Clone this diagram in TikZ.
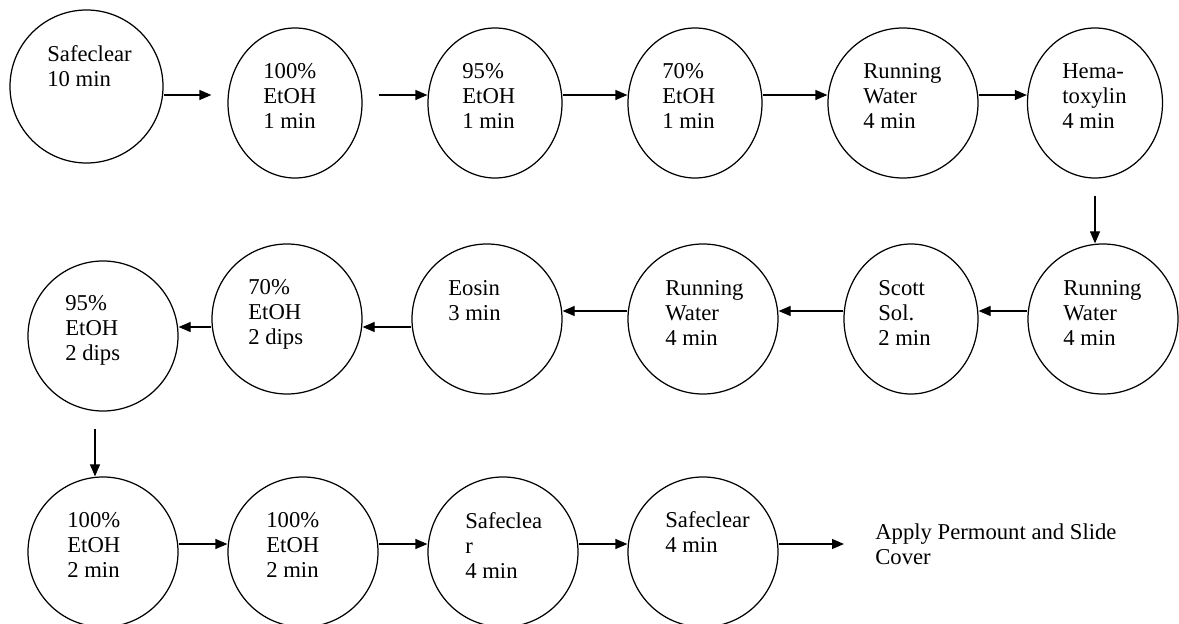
\documentclass[tikz,border=0pt]{standalone}
\usepackage{fontspec}
\setmainfont{Liberation Serif}
\usetikzlibrary{shapes.geometric,arrows.meta,positioning,calc}

\begin{document}
\begin{tikzpicture}[
    bath/.style={draw, ellipse, line width=0.7pt, inner sep=0pt,
      minimum width=3cm, minimum height=3cm},
    lbl/.style={anchor=north west, inner sep=0pt, align=left,
      font=\fontsize{12.9}{14.2}\selectfont},
    flow/.style={->, line width=0.7pt},
    >={Triangle[length=0.24cm,width=0.2cm]}
  ]
  \useasboundingbox (0,0) rectangle (23.58,-12.48);

  % arrow heights of the rows
  \coordinate (row1) at (0,-1.9);
  \coordinate (row2a) at (0,-6.22);
  \coordinate (row2b) at (0,-6.54);
  \coordinate (row3) at (0,-10.88);

  % first row
  \node[bath, minimum width=3.06cm, minimum height=3.06cm] (s1) at (1.73,-1.73) {};
  \node[bath, minimum width=2.68cm] (s2) at (5.9,-2.06) {};
  \node[bath, minimum width=2.68cm] (s3) at (9.9,-2.06) {};
  \node[bath, minimum width=2.68cm] (s4) at (13.9,-2.06) {};
  \node[bath] (s5) at (18.06,-2.06) {};
  \node[bath, minimum width=2.7cm] (s6) at (21.9,-2.06) {};

  \node[lbl] (t1) at (0.94,-0.9) {Safeclear\\10 min};
  \node[lbl] (t2) at (5.26,-1.26) {100\%\\EtOH\\1 min};
  \node[lbl] (t3) at (9.24,-1.26) {95\%\\EtOH\\1 min};
  \node[lbl] (t4) at (13.24,-1.26) {70\%\\EtOH\\1 min};
  \node[lbl] (t5) at (17.26,-1.26) {Running\\Water\\4 min};
  \node[lbl] (t6) at (21.24,-1.26) {Hema-\\toxylin\\4 min};

  % second row, right to left
  \node[bath] (s7) at (22.06,-6.38) {};
  \node[bath, minimum width=2.68cm] (s8) at (18.22,-6.38) {};
  \node[bath] (s9) at (14.06,-6.38) {};
  \node[bath] (s10) at (9.74,-6.38) {};
  \node[bath] (s11) at (5.74,-6.38) {};
  \node[bath] (s12) at (2.06,-6.72) {};

  \node[lbl] (t7) at (21.26,-5.6) {Running\\Water\\4 min};
  \node[lbl] (t8) at (17.56,-5.6) {Scott\\Sol.\\2 min};
  \node[lbl] (t9) at (13.3,-5.6) {Running\\Water\\4 min};
  \node[lbl] (t10) at (8.96,-5.6) {Eosin\\3 min};
  \node[lbl] (t11) at (4.96,-5.58) {70\%\\EtOH\\2 dips};
  \node[lbl] (t12) at (1.3,-5.9) {95\%\\EtOH\\2 dips};

  % third row
  \node[bath] (s13) at (2.06,-11.04) {};
  \node[bath] (s14) at (6.06,-11.04) {};
  \node[bath] (s15) at (10.06,-11.04) {};
  \node[bath] (s16) at (14.06,-11.04) {};

  \node[lbl] (t13) at (1.34,-10.24) {100\%\\EtOH\\2 min};
  \node[lbl] (t14) at (5.32,-10.24) {100\%\\EtOH\\2 min};
  \node[lbl] (t15) at (9.3,-10.24) {Safeclea\\r\\4 min};
  \node[lbl] (t16) at (13.3,-10.22) {Safeclear\\4 min};
  \node[lbl] (fin) at (17.5,-10.46) {Apply Permount and Slide\\Cover};

  % connectors
  \draw[flow, shorten >=0.32cm] (s1.east |- row1) -- (s2.west |- row1);
  \draw[flow, shorten <=0.32cm] (s2.east |- row1) -- (s3.west |- row1);
  \draw[flow] (s3.east |- row1) -- (s4.west |- row1);
  \draw[flow] (s4.east |- row1) -- (s5.west |- row1);
  \draw[flow] (s5.east |- row1) -- (s6.west |- row1);
  \draw[flow, shorten <=0.34cm] (s6.south) -- (s6.south |- s7.north);

  \draw[flow] (s7.west |- row2a) -- (s8.east |- row2a);
  \draw[flow] (s8.west |- row2a) -- (s9.east |- row2a);
  \draw[flow] (s9.west |- row2a) -- (s10.east |- row2a);
  \draw[flow] (s10.west |- row2b) -- (s11.east |- row2b);
  \draw[flow] (s11.west |- row2b) -- (s12.east |- row2b);
  \draw[flow, shorten <=0.34cm] ($(s12.south)+(-0.16,0)$) -- ($(s12.south |- s13.north)+(-0.16,0)$);

  \draw[flow] (s13.east |- row3) -- (s14.west |- row3);
  \draw[flow] (s14.east |- row3) -- (s15.west |- row3);
  \draw[flow] (s15.east |- row3) -- (s16.west |- row3);
  \draw[flow, shorten >=0.62cm] (s16.east |- row3) -- (fin.west |- row3);
\end{tikzpicture}
\end{document}
